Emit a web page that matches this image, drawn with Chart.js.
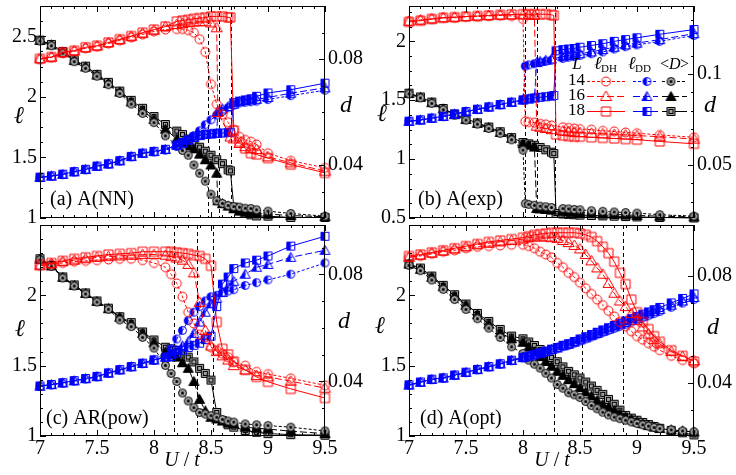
<!DOCTYPE html>
<html lang="en">
<head>
    <meta charset="UTF-8">
    <title>Length scales vs U/t</title>
    <script src="https://cdn.jsdelivr.net/npm/chart.js"></script>
    <style>
        body { margin: 0; background: #fff; width: 736px; height: 475px; position: relative; overflow: hidden; }
        canvas { position: absolute; }
    </style>
</head>
<body>
    <canvas id="chartA" width="368" height="232" style="left:0;top:0"></canvas>
    <canvas id="chartB" width="368" height="232" style="left:368px;top:0"></canvas>
    <canvas id="chartC" width="368" height="256" style="left:0;top:219px"></canvas>
    <canvas id="chartD" width="368" height="256" style="left:368px;top:219px"></canvas>

    <script>
        // x ticks shared by all panels
        const ticksX = [7, 7.5, 8, 8.5, 9, 9.5];

        // (a) A(NN)
        const aU = [7, 7.1, 7.2, 7.3, 7.4, 7.5, 7.6, 7.7, 7.8, 7.9, 8, 8.1, 8.2, 8.25, 8.3, 8.35, 8.4, 8.45, 8.5, 8.55, 8.56, 8.6, 8.65, 8.67, 8.7, 8.75, 8.8, 8.85, 8.9, 9, 9.2, 9.5];
        const aDH14 = [2.31, 2.325, 2.36, 2.375, 2.4, 2.415, 2.44, 2.465, 2.49, 2.515, 2.54, 2.556, 2.56, 2.56, 2.55, 2.53, 2.476, 2.37, 2.105, 1.94, null, 1.855, 1.79, null, 1.726, 1.67, 1.645, 1.63, 1.607, 1.535, 1.473, 1.414];
        const aDH16 = [2.315, 2.328, 2.365, 2.38, 2.405, 2.42, 2.447, 2.472, 2.5, 2.525, 2.55, 2.58, 2.597, 2.605, 2.613, 2.617, 2.62, 2.62, 2.61, 2.57, 1.871, null, null, 1.669, 1.653, 1.615, 1.589, 1.575, 1.565, 1.505, 1.455, 1.387];
        const aDH18 = [2.315, 2.328, 2.368, 2.381, 2.409, 2.422, 2.449, 2.476, 2.502, 2.53, 2.556, 2.58, 2.623, 2.63, 2.637, 2.645, 2.65, 2.655, 2.664, 2.664, null, 2.664, 2.656, 2.656, 1.723, 1.629, 1.573, 1.535, 1.524, 1.494, 1.441, 1.373];
        const aDD14 = [1.333, 1.344, 1.358, 1.379, 1.398, 1.425, 1.444, 1.47, 1.505, 1.532, 1.545, 1.56, 1.59, 1.61, 1.64, 1.68, 1.72, 1.77, 1.81, 1.85, null, 1.88, 1.91, null, 1.93, 1.95, 1.955, 1.96, 1.965, 1.978, 2.01, 2.055];
        const aDD16 = [1.335, 1.346, 1.36, 1.381, 1.4, 1.427, 1.446, 1.472, 1.507, 1.534, 1.548, 1.565, 1.6, 1.62, 1.643, 1.665, 1.68, 1.69, 1.694, 1.7, 1.88, 1.9, 1.92, null, 1.94, 1.96, 1.97, 1.975, 1.98, 1.995, 2.03, 2.075];
        const aDD18 = [1.337, 1.348, 1.362, 1.383, 1.402, 1.429, 1.448, 1.474, 1.509, 1.536, 1.55, 1.567, 1.602, 1.622, 1.645, 1.669, 1.683, 1.69, 1.695, 1.7, null, 1.702, 1.705, 1.708, 1.952, 1.965, 1.975, 1.984, 2.005, 2.032, 2.059, 2.113];
        const aD14 = [0.0868, 0.085, 0.0822, 0.079, 0.0765, 0.0735, 0.0703, 0.067, 0.063, 0.0595, 0.056, 0.051, 0.0473, 0.0455, 0.0437, 0.04, 0.0369, 0.0339, 0.029, 0.0265, null, 0.0255, 0.0247, null, 0.0243, 0.0241, 0.0237, 0.0236, 0.0231, 0.0226, 0.0217, 0.0207];
        const aD16 = [0.087, 0.0853, 0.0826, 0.0794, 0.077, 0.0739, 0.0708, 0.0675, 0.0638, 0.0605, 0.0572, 0.0535, 0.0498, 0.0485, 0.0472, 0.0461, 0.0441, 0.042, 0.04, 0.0369, 0.0265, 0.0254, 0.0245, null, 0.0235, 0.0228, 0.0222, 0.022, 0.0217, 0.0215, 0.0209, 0.0205];
        const aD18 = [0.0871, 0.0855, 0.0828, 0.0797, 0.0773, 0.0742, 0.0712, 0.0679, 0.0644, 0.0614, 0.0583, 0.0553, 0.0528, 0.0515, 0.0498, 0.0482, 0.0467, 0.0452, 0.0437, 0.042, null, 0.0405, 0.0382, 0.0378, 0.0241, 0.0226, 0.0217, 0.0212, 0.0208, 0.0207, 0.0202, 0.0202];
        const aCuts = [8.475, 8.57, 8.675];

        // (b) A(exp)
        const bU = [7, 7.1, 7.2, 7.3, 7.4, 7.5, 7.6, 7.7, 7.8, 7.9, 8, 8.02, 8.05, 8.1, 8.12, 8.15, 8.2, 8.25, 8.27, 8.29, 8.35, 8.4, 8.45, 8.5, 8.6, 8.7, 8.8, 8.9, 9, 9.2, 9.5];
        const bDH14 = [2.17, 2.18, 2.19, 2.2, 2.2, 2.21, 2.21, 2.215, 2.22, 2.215, 2.19, 1.32, 1.315, 1.31, null, 1.3, 1.295, 1.285, null, null, 1.27, 1.265, 1.26, 1.255, 1.25, 1.24, 1.235, 1.226, 1.22, 1.205, 1.185];
        const bDH16 = [2.17, 2.18, 2.19, 2.2, 2.205, 2.21, 2.215, 2.22, 2.222, 2.225, 2.225, null, 2.225, 2.22, 1.28, 1.27, 1.26, 1.25, null, null, 1.24, 1.235, 1.23, 1.225, 1.22, 1.215, 1.21, 1.205, 1.2, 1.19, 1.17];
        const bDH18 = [2.165, 2.175, 2.19, 2.2, 2.205, 2.21, 2.215, 2.22, 2.225, 2.228, 2.23, null, 2.23, 2.23, null, 2.23, 2.23, 2.225, 2.22, 1.21, 1.2, 1.195, 1.19, 1.19, 1.185, 1.18, 1.175, 1.17, 1.165, 1.15, 1.13];
        const bDD14 = [1.32, 1.33, 1.345, 1.36, 1.38, 1.4, 1.42, 1.44, 1.46, 1.48, 1.5, 1.79, 1.8, 1.81, null, 1.82, 1.83, 1.84, null, null, 1.855, 1.865, 1.87, 1.88, 1.895, 1.91, 1.935, 1.955, 1.97, 2, 2.05];
        const bDD16 = [1.32, 1.332, 1.347, 1.362, 1.382, 1.402, 1.422, 1.442, 1.462, 1.482, 1.502, null, 1.51, 1.52, 1.82, 1.83, 1.84, 1.85, null, null, 1.87, 1.88, 1.885, 1.895, 1.91, 1.93, 1.95, 1.97, 1.985, 2.015, 2.065];
        const bDD18 = [1.322, 1.334, 1.349, 1.364, 1.384, 1.404, 1.424, 1.444, 1.464, 1.484, 1.504, null, 1.512, 1.52, null, 1.525, 1.53, 1.535, 1.54, 1.92, 1.93, 1.935, 1.94, 1.95, 1.965, 1.98, 2, 2.015, 2.03, 2.06, 2.1];
        const bD14 = [0.0892, 0.087, 0.084, 0.0805, 0.0775, 0.0748, 0.0726, 0.0702, 0.0675, 0.064, 0.0583, 0.0289, 0.0285, 0.028, null, 0.0275, 0.0272, 0.0268, null, null, 0.0262, 0.026, 0.0257, 0.0255, 0.025, 0.0247, 0.0243, 0.024, 0.0237, 0.0228, 0.022];
        const bD16 = [0.0894, 0.0873, 0.0844, 0.0809, 0.0778, 0.0751, 0.073, 0.0707, 0.068, 0.0648, 0.0618, null, 0.061, 0.06, 0.0262, 0.026, 0.0257, 0.0253, null, null, 0.0248, 0.0245, 0.0243, 0.024, 0.0236, 0.0233, 0.023, 0.0227, 0.0224, 0.022, 0.0216];
        const bD18 = [0.0896, 0.0875, 0.0847, 0.0812, 0.0781, 0.0754, 0.0733, 0.071, 0.0684, 0.0652, 0.0625, null, 0.0618, 0.061, null, 0.0598, 0.0585, 0.0572, 0.0564, 0.0235, 0.0232, 0.023, 0.0228, 0.0226, 0.0224, 0.0222, 0.022, 0.0218, 0.0216, 0.0213, 0.021];
        const bCuts = [8.02, 8.12, 8.285];

        // (c) AR(pow)
        const cU = [7, 7.1, 7.2, 7.3, 7.4, 7.5, 7.6, 7.7, 7.8, 7.9, 8, 8.1, 8.15, 8.2, 8.25, 8.3, 8.35, 8.4, 8.45, 8.5, 8.55, 8.6, 8.65, 8.7, 8.8, 8.9, 9, 9.2, 9.5];
        const cDH14 = [2.21, 2.22, 2.23, 2.24, 2.245, 2.25, 2.255, 2.26, 2.26, 2.25, 2.23, 2.2, 2.15, 2.085, 1.99, 1.88, 1.8, 1.72, 1.7, 1.63, 1.61, 1.585, 1.56, 1.525, 1.5, 1.456, 1.44, 1.41, 1.36];
        const cDH16 = [2.21, 2.225, 2.24, 2.25, 2.26, 2.27, 2.275, 2.28, 2.285, 2.29, 2.29, 2.285, 2.275, 2.265, 2.25, 2.22, 2.16, 1.95, 1.75, 1.64, 1.6, 1.57, 1.54, 1.5, 1.47, 1.43, 1.42, 1.39, 1.34];
        const cDH18 = [2.22, 2.23, 2.245, 2.26, 2.27, 2.28, 2.29, 2.295, 2.3, 2.31, 2.31, 2.31, 2.31, 2.305, 2.3, 2.295, 2.285, 2.28, 2.26, 2.21, 1.81, 1.62, 1.58, 1.53, 1.47, 1.42, 1.385, 1.335, 1.27];
        const cDD14 = [1.352, 1.363, 1.375, 1.39, 1.405, 1.42, 1.445, 1.468, 1.49, 1.514, 1.537, 1.56, 1.62, 1.69, 1.75, 1.82, 1.88, 1.92, 1.96, 1.99, 2, 2.02, 2.03, 2.04, 2.07, 2.09, 2.11, 2.15, 2.23];
        const cDD16 = [1.354, 1.365, 1.377, 1.392, 1.407, 1.422, 1.447, 1.47, 1.492, 1.516, 1.54, 1.56, 1.58, 1.61, 1.64, 1.67, 1.73, 1.81, 1.88, 1.94, 1.98, 2.02, 2.06, 2.1, 2.15, 2.2, 2.22, 2.27, 2.32];
        const cDD18 = [1.356, 1.367, 1.379, 1.394, 1.409, 1.424, 1.449, 1.472, 1.494, 1.518, 1.542, 1.56, 1.565, 1.59, 1.61, 1.63, 1.645, 1.66, 1.685, 1.71, 1.92, 2.08, 2.13, 2.19, 2.23, 2.25, 2.28, 2.35, 2.42];
        const cD14 = [0.0855, 0.083, 0.0787, 0.0757, 0.0727, 0.0697, 0.067, 0.063, 0.0605, 0.0565, 0.0525, 0.046, 0.043, 0.04, 0.0357, 0.0327, 0.0302, 0.0284, 0.0278, 0.0272, 0.0266, 0.0258, 0.0252, 0.0248, 0.0241, 0.0238, 0.0235, 0.0229, 0.0215];
        const cD16 = [0.0857, 0.0832, 0.0789, 0.0759, 0.0729, 0.0699, 0.0672, 0.064, 0.0615, 0.058, 0.0545, 0.051, 0.05, 0.0491, 0.047, 0.0449, 0.04, 0.0333, 0.029, 0.0266, 0.026, 0.0252, 0.0245, 0.0241, 0.0229, 0.0225, 0.0222, 0.0214, 0.0205];
        const cD18 = [0.0859, 0.0834, 0.0791, 0.0761, 0.0731, 0.0701, 0.0674, 0.0642, 0.062, 0.0585, 0.0555, 0.0528, 0.0522, 0.0516, 0.0503, 0.0491, 0.0473, 0.0449, 0.043, 0.0405, 0.0284, 0.0254, 0.0238, 0.0229, 0.0217, 0.021, 0.0205, 0.0201, 0.0199];
        const cCuts = [8.175, 8.374, 8.515];

        // (d) A(opt)
        const dU = [7, 7.1, 7.2, 7.3, 7.4, 7.5, 7.6, 7.7, 7.8, 7.9, 8, 8.05, 8.1, 8.15, 8.2, 8.25, 8.3, 8.35, 8.4, 8.45, 8.5, 8.55, 8.6, 8.65, 8.7, 8.75, 8.8, 8.85, 8.9, 8.95, 9, 9.05, 9.1, 9.15, 9.2, 9.3, 9.4, 9.5];
        const dDH14 = [2.27, 2.28, 2.295, 2.31, 2.32, 2.335, 2.345, 2.35, 2.355, 2.36, 2.36, 2.35, 2.335, 2.31, 2.29, 2.27, 2.23, 2.2, 2.16, 2.13, 2.09, 2.05, 2.01, 1.97, 1.93, 1.89, 1.85, 1.81, 1.78, 1.745, 1.71, 1.685, 1.66, 1.635, 1.61, 1.57, 1.54, 1.515];
        const dDH16 = [2.27, 2.285, 2.3, 2.315, 2.33, 2.345, 2.36, 2.37, 2.38, 2.39, 2.4, 2.41, 2.415, 2.415, 2.415, 2.41, 2.405, 2.39, 2.375, 2.355, 2.33, 2.29, 2.245, 2.195, 2.15, 2.085, 2.015, 1.96, 1.92, 1.87, 1.82, 1.775, 1.725, 1.685, 1.655, 1.6, 1.565, 1.535];
        const dDH18 = [2.28, 2.29, 2.305, 2.32, 2.335, 2.35, 2.365, 2.38, 2.39, 2.4, 2.41, 2.42, 2.43, 2.435, 2.44, 2.445, 2.445, 2.445, 2.445, 2.445, 2.44, 2.43, 2.415, 2.385, 2.345, 2.3, 2.24, 2.16, 2.08, 1.97, 1.88, 1.81, 1.76, 1.71, 1.67, 1.61, 1.57, 1.53];
        const dDD14 = [1.36, 1.38, 1.4, 1.41, 1.43, 1.45, 1.47, 1.49, 1.51, 1.535, 1.555, 1.565, 1.575, 1.585, 1.595, 1.61, 1.62, 1.635, 1.645, 1.66, 1.675, 1.69, 1.705, 1.72, 1.735, 1.75, 1.765, 1.78, 1.795, 1.81, 1.825, 1.84, 1.855, 1.87, 1.885, 1.915, 1.945, 1.97];
        const dDD16 = [1.362, 1.382, 1.402, 1.412, 1.432, 1.452, 1.472, 1.492, 1.512, 1.537, 1.557, 1.567, 1.578, 1.589, 1.6, 1.615, 1.626, 1.641, 1.652, 1.667, 1.683, 1.698, 1.714, 1.729, 1.745, 1.76, 1.776, 1.791, 1.807, 1.822, 1.838, 1.853, 1.869, 1.884, 1.9, 1.93, 1.96, 1.985];
        const dDD18 = [1.364, 1.384, 1.404, 1.414, 1.434, 1.454, 1.474, 1.494, 1.514, 1.539, 1.559, 1.569, 1.58, 1.592, 1.603, 1.618, 1.63, 1.645, 1.657, 1.672, 1.69, 1.706, 1.722, 1.738, 1.754, 1.77, 1.786, 1.802, 1.818, 1.834, 1.85, 1.866, 1.882, 1.898, 1.914, 1.946, 1.978, 2.01];
        const dD14 = [0.084, 0.082, 0.0785, 0.075, 0.0712, 0.0675, 0.064, 0.0605, 0.057, 0.0535, 0.051, 0.0485, 0.047, 0.0455, 0.0436, 0.0418, 0.0394, 0.038, 0.0363, 0.0355, 0.0345, 0.033, 0.0315, 0.0303, 0.029, 0.028, 0.0272, 0.0266, 0.026, 0.0254, 0.0248, 0.0243, 0.0238, 0.0233, 0.0229, 0.0224, 0.022, 0.0217];
        const dD16 = [0.0845, 0.0825, 0.0795, 0.076, 0.0725, 0.069, 0.0655, 0.062, 0.0588, 0.0565, 0.0552, 0.0534, 0.0516, 0.0498, 0.048, 0.0462, 0.0443, 0.0428, 0.0412, 0.0397, 0.0382, 0.0366, 0.0351, 0.0335, 0.032, 0.0308, 0.0296, 0.0284, 0.0272, 0.0263, 0.0254, 0.0247, 0.024, 0.0234, 0.0229, 0.0224, 0.022, 0.0216];
        const dD18 = [0.0845, 0.083, 0.08, 0.0765, 0.073, 0.0695, 0.066, 0.063, 0.06, 0.0575, 0.0565, 0.0553, 0.054, 0.0525, 0.051, 0.0495, 0.0479, 0.046, 0.0443, 0.043, 0.0418, 0.0403, 0.0388, 0.0372, 0.0357, 0.0338, 0.032, 0.0298, 0.0278, 0.0268, 0.026, 0.0252, 0.0244, 0.0237, 0.023, 0.0222, 0.0213, 0.0205];
        const dCuts = [8.27, 8.515, 8.875];

        const FONT = '"Liberation Serif", "DejaVu Serif", serif';
        const DASH = [[3, 2], [7, 3], []];
        const SIZES = ['14', '16', '18'];

        // marker sprites: open red, half-filled blue, grey/black with centre mark
        function makeMarker(shape, kind) {
            const c = document.createElement('canvas');
            c.width = 13; c.height = 13;
            const g = c.getContext('2d');
            const color = { dh: '#ff0000', dd: '#0000ff', dm: '#000000' }[kind];
            const big = kind === 'dh' ? 0.5 : 0;
            function outline() {
                g.beginPath();
                if (shape === 'circle') g.arc(6.5, 6.5, 4 + big, 0, Math.PI * 2);
                else if (shape === 'rect') g.rect(2.5 - big, 2.5 - big, 8 + 2 * big, 8 + 2 * big);
                else { g.moveTo(6.5, 1.5 - big); g.lineTo(11.5 + big, 10.5); g.lineTo(1.5 - big, 10.5); g.closePath(); }
            }
            g.lineWidth = 1;
            g.strokeStyle = color;
            if (kind === 'dd') {
                g.save(); g.beginPath(); g.rect(0, 0, 6.5, 13); g.clip();
                outline(); g.fillStyle = color; g.fill(); g.restore();
            }
            if (kind === 'dm') {
                outline(); g.fillStyle = shape === 'triangle' ? '#000' : '#a3a3a3'; g.fill();
                if (shape === 'circle') { g.beginPath(); g.arc(6.5, 6.5, 1.5, 0, Math.PI * 2); g.fillStyle = '#000'; g.fill(); }
                if (shape === 'rect') g.strokeRect(4.5, 4.5, 4, 4);
            }
            outline(); g.stroke();
            return c;
        }
        const SHAPES = ['circle', 'triangle', 'rect'];
        const MARK = {
            dh: SHAPES.map(s => makeMarker(s, 'dh')),
            dd: SHAPES.map(s => makeMarker(s, 'dd')),
            dm: SHAPES.map(s => makeMarker(s, 'dm'))
        };

        function points(xs, ys) {
            return xs.map((x, i) => ({ x: x, y: ys[i] })).filter(p => p.y !== null);
        }

        function text(ctx, s, x, y, font, align) {
            ctx.font = font;
            ctx.textAlign = align || 'left';
            ctx.fillText(s, x, y);
        }

        function tickRun(scale, step, major, cb) {
            const lo = Math.ceil(scale.min / step - 1e-6), hi = Math.floor(scale.max / step + 1e-6);
            for (let k = lo; k <= hi; k++) {
                const v = k * step;
                const isMajor = Math.abs(v / major - Math.round(v / major)) < 1e-6;
                cb(scale.getPixelForValue(v), isMajor ? 6 : 3);
            }
        }

        function drawLegend(ctx) {
            ctx.fillStyle = '#000';
            ctx.textBaseline = 'middle';
            text(ctx, 'L', 577, 65, 'italic 17px ' + FONT, 'center');
            text(ctx, '\u2113', 594, 64, 'italic 18px ' + FONT);
            text(ctx, 'DH', 601, 69, '11px ' + FONT);
            text(ctx, '\u2113', 628, 64, 'italic 18px ' + FONT);
            text(ctx, 'DD', 635, 69, '11px ' + FONT);
            text(ctx, '<', 660, 65, '16px ' + FONT);
            text(ctx, 'D', 669, 65, 'italic 16px ' + FONT);
            text(ctx, '>', 680, 65, '16px ' + FONT);
            const rows = [81, 96, 111];
            const cols = [
                { from: 587, to: 625, at: 606, color: '#ff0000', kind: 'dh' },
                { from: 633, to: 658, at: 647, color: '#0000ff', kind: 'dd' },
                { from: 662, to: 687, at: 671, color: '#000000', kind: 'dm' }
            ];
            rows.forEach((y, k) => {
                ctx.fillStyle = '#000';
                text(ctx, SIZES[k], 585, y, '17px ' + FONT, 'right');
                cols.forEach(c => {
                    ctx.strokeStyle = c.color;
                    ctx.lineWidth = 1;
                    ctx.setLineDash(DASH[k]);
                    ctx.beginPath(); ctx.moveTo(c.from, y + 0.5); ctx.lineTo(c.to, y + 0.5); ctx.stroke();
                    ctx.setLineDash([]);
                    ctx.drawImage(MARK[c.kind][k], c.at - 6.5, y - 6);
                });
            });
        }

        const decor = {
            id: 'decor',
            beforeDatasetsDraw(chart, args, o) {
                const ctx = chart.ctx, a = chart.chartArea, sx = chart.scales.x;
                ctx.save();
                ctx.strokeStyle = '#000';
                ctx.lineWidth = 1;
                ctx.setLineDash([4, 3]);
                o.cuts.forEach(u => {
                    const px = Math.round(sx.getPixelForValue(u)) + 0.5;
                    ctx.beginPath(); ctx.moveTo(px, a.top); ctx.lineTo(px, a.bottom); ctx.stroke();
                });
                ctx.restore();
            },
            afterDraw(chart, args, o) {
                const ctx = chart.ctx, a = chart.chartArea;
                const sx = chart.scales.x, sy = chart.scales.y, sd = chart.scales.y1;
                ctx.save();
                ctx.strokeStyle = '#000';
                ctx.lineWidth = 1;
                ctx.setLineDash([]);
                ctx.strokeRect(a.left + 0.5, a.top + 0.5, a.right - a.left - 1, a.bottom - a.top - 1);
                ctx.beginPath();
                tickRun(sx, 0.1, 0.5, (p, len) => {
                    const q = Math.round(p) + 0.5;
                    ctx.moveTo(q, a.bottom); ctx.lineTo(q, a.bottom - len);
                    ctx.moveTo(q, a.top); ctx.lineTo(q, a.top + len);
                });
                tickRun(sy, o.lMinor, 0.5, (p, len) => {
                    const q = Math.round(p) + 0.5;
                    ctx.moveTo(a.left, q); ctx.lineTo(a.left + len, q);
                });
                tickRun(sd, 0.01, o.dMajor, (p, len) => {
                    const q = Math.round(p) + 0.5;
                    ctx.moveTo(a.right, q); ctx.lineTo(a.right - len, q);
                });
                ctx.stroke();

                // texts are given in page coordinates
                ctx.translate(-o.ox, -o.oy);
                ctx.fillStyle = '#000';
                ctx.textBaseline = 'alphabetic';
                text(ctx, o.label, o.labelX, o.labelY, '20px ' + FONT);
                ctx.textBaseline = 'middle';
                text(ctx, '\u2113', o.ellX, o.ellY, 'italic 24px ' + FONT, 'center');
                text(ctx, 'd', o.dX, o.dY, 'italic 24px ' + FONT, 'center');
                if (o.showX) {
                    ctx.textBaseline = 'alphabetic';
                    ctx.font = 'italic 20px ' + FONT;
                    const wU = ctx.measureText('U').width, wt = ctx.measureText('t').width;
                    ctx.font = '20px ' + FONT;
                    const ws = ctx.measureText(' / ').width;
                    let x0 = o.uX - (wU + ws + wt) / 2;
                    text(ctx, 'U', x0, 466, 'italic 20px ' + FONT);
                    text(ctx, ' / ', x0 + wU, 466, '20px ' + FONT);
                    text(ctx, 't', x0 + wU + ws, 466, 'italic 20px ' + FONT);
                }
                if (o.legend) drawLegend(ctx);
                ctx.restore();
            }
        };

        const tickFont = { family: FONT, size: 20 };

        function yScale(pos, min, max, labels, width) {
            return {
                type: 'linear', position: pos, min: min, max: max,
                grid: { display: false, drawTicks: false },
                border: { display: false },
                ticks: { font: tickFont, color: '#000', padding: 3, callback: v => String(v) },
                afterBuildTicks: s => { s.ticks = labels.map(v => ({ value: v })); },
                afterFit: s => { s.width = width; s.paddingTop = 0; s.paddingBottom = 0; }
            };
        }

        function makePanel(id, p) {
            const sets = [];
            const groups = [
                { arrs: p.dh, kind: 'dh', color: '#ff0000', axis: 'y' },
                { arrs: p.dd, kind: 'dd', color: '#0000ff', axis: 'y' },
                { arrs: p.dm, kind: 'dm', color: '#000000', axis: 'y1' }
            ];
            groups.forEach(g => g.arrs.forEach((ys, k) => sets.push({
                data: points(p.u, ys),
                yAxisID: g.axis,
                borderColor: g.color,
                backgroundColor: g.color,
                borderWidth: 1,
                borderDash: DASH[k],
                pointStyle: MARK[g.kind][k],
                pointRadius: 5,
                spanGaps: true,
                clip: false,
                tension: 0
            })));

            new Chart(document.getElementById(id), {
                type: 'line',
                data: { datasets: sets },
                options: {
                    responsive: false,
                    animation: false,
                    events: [],
                    layout: { padding: { top: 1, bottom: 0, left: 0, right: 0 } },
                    plugins: {
                        legend: { display: false },
                        tooltip: { enabled: false },
                        decor: p.decor
                    },
                    scales: {
                        x: {
                            type: 'linear', min: 7, max: 9.5,
                            grid: { display: false, drawTicks: false },
                            border: { display: false },
                            ticks: { display: p.decor.showX, font: tickFont, color: '#000', padding: 1, maxRotation: 0, autoSkip: false, callback: v => String(v) },
                            afterBuildTicks: s => { s.ticks = ticksX.map(v => ({ value: v })); },
                            afterFit: s => { s.height = p.decor.showX ? 39 : 14; s.paddingLeft = 0; s.paddingRight = 0; }
                        },
                        y: yScale('left', p.lMin, p.lMax, p.lTicks, p.leftW),
                        y1: yScale('right', p.dMin, p.dMax, p.dTicks, p.rightW)
                    }
                },
                plugins: [decor]
            });
        }

        makePanel('chartA', {
            u: aU, dh: [aDH14, aDH16, aDH18], dd: [aDD14, aDD16, aDD18], dm: [aD14, aD16, aD18],
            lMin: 1, lMax: 2.75, lTicks: [1, 1.5, 2, 2.5], dMin: 0.02, dMax: 0.1, dTicks: [0.04, 0.08],
            leftW: 40, rightW: 43,
            decor: { cuts: aCuts, dMajor: 0.04, lMinor: 0.125, ox: 0, oy: 0, label: '(a) A(NN)', labelX: 50, labelY: 205,
                     ellX: 19, ellY: 117, dX: 346, dY: 106, showX: false, legend: false }
        });
        makePanel('chartB', {
            u: bU, dh: [bDH14, bDH16, bDH18], dd: [bDD14, bDD16, bDD18], dm: [bD14, bD16, bD18],
            lMin: 0.5, lMax: 2.3, lTicks: [0.5, 1, 1.5, 2], dMin: 0.021, dMax: 0.1375, dTicks: [0.05, 0.1],
            leftW: 41, rightW: 42,
            decor: { cuts: bCuts, dMajor: 0.05, lMinor: 0.125, ox: 368, oy: 0, label: '(b) A(exp)', labelX: 418, labelY: 205,
                     ellX: 382, ellY: 115, dX: 710, dY: 106, showX: false, legend: true }
        });
        makePanel('chartC', {
            u: cU, dh: [cDH14, cDH16, cDH18], dd: [cDD14, cDD16, cDD18], dm: [cD14, cD16, cD18],
            lMin: 1, lMax: 2.5, lTicks: [1, 1.5, 2], dMin: 0.0196, dMax: 0.0985, dTicks: [0.04, 0.08],
            leftW: 40, rightW: 43,
            decor: { cuts: cCuts, dMajor: 0.04, lMinor: 0.1, ox: 0, oy: 219, label: '(c) AR(pow)', labelX: 46, labelY: 424,
                     ellX: 20, ellY: 330, dX: 344, dY: 322, showX: true, uX: 182, legend: false }
        });
        makePanel('chartD', {
            u: dU, dh: [dDH14, dDH16, dDH18], dd: [dDD14, dDD16, dDD18], dm: [dD14, dD16, dD18],
            lMin: 1, lMax: 2.5, lTicks: [1, 1.5, 2], dMin: 0.0201, dMax: 0.0991, dTicks: [0.04, 0.08],
            leftW: 41, rightW: 42,
            decor: { cuts: dCuts, dMajor: 0.04, lMinor: 0.1, ox: 368, oy: 219, label: '(d) A(opt)', labelX: 420, labelY: 424,
                     ellX: 380, ellY: 327, dX: 713, dY: 328, showX: true, uX: 552, legend: false }
        });
    </script>
</body>
</html>
